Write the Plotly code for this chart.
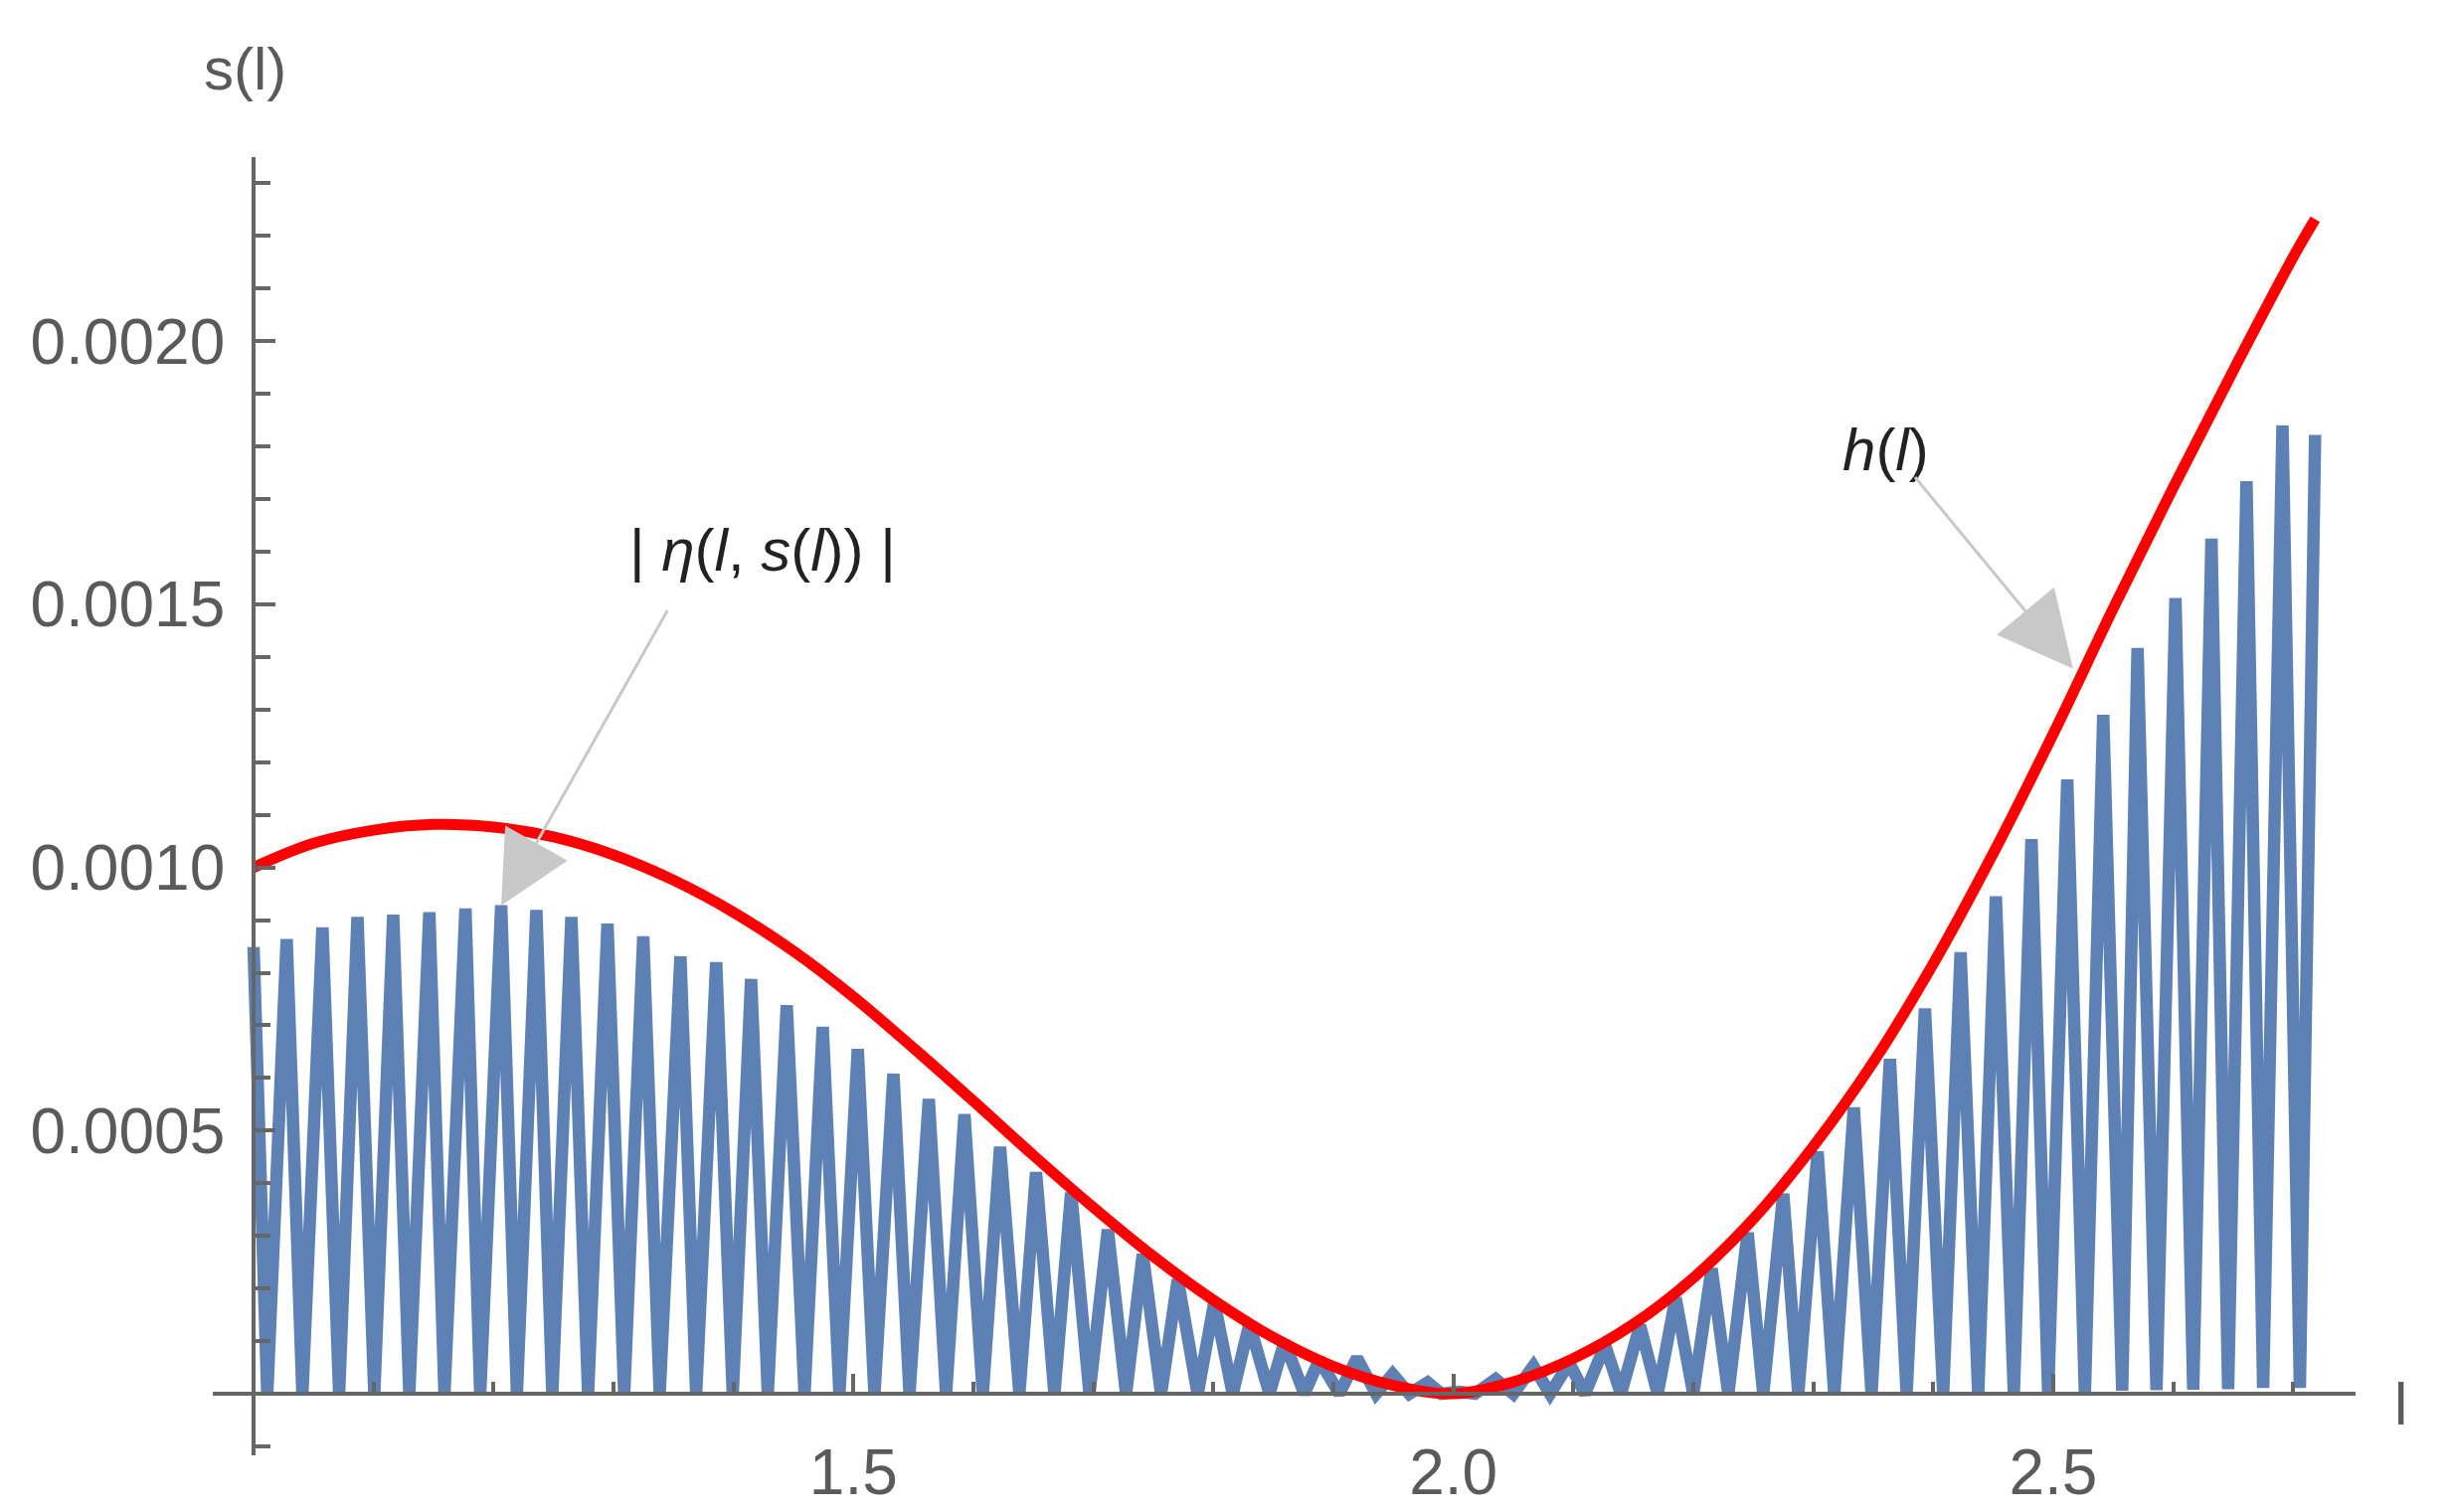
import plotly.graph_objects as go

# |eta(l, s(l))| : zigzag vertices
eta_l = [
    1.000, 1.0114, 1.0276, 1.0407, 1.0574, 1.0713, 1.0866, 1.1006, 1.1164, 1.1298,
    1.1465, 1.1591, 1.1766, 1.1889, 1.2064, 1.2195, 1.2357, 1.2490, 1.2649, 1.2788,
    1.2950, 1.3089, 1.3248, 1.3385, 1.3558, 1.3689, 1.3856, 1.3994, 1.4147, 1.4286,
    1.4444, 1.4592, 1.4744, 1.4883, 1.5036, 1.5175, 1.5333, 1.5467, 1.5628, 1.5772,
    1.5925, 1.6078, 1.6222, 1.6383, 1.6522, 1.6675, 1.6814, 1.6967, 1.7120, 1.7272,
    1.7411, 1.7564, 1.7703, 1.7869, 1.8008, 1.8161, 1.8300, 1.8467, 1.8592, 1.8758,
    1.8883, 1.9050, 1.9197, 1.9356, 1.9494, 1.9633, 1.9786, 1.9900, 2.0050, 2.0180,
    2.0353, 2.0500, 2.0667, 2.0806, 2.0967, 2.1097, 2.1264, 2.1397, 2.1556, 2.1703,
    2.1853, 2.2000, 2.2153, 2.2292, 2.2453, 2.2583, 2.2750, 2.2875, 2.3036, 2.3175,
    2.3338, 2.3486, 2.3639, 2.3778, 2.3931, 2.4083, 2.4228, 2.4375, 2.4522, 2.4672,
    2.4819, 2.4958, 2.5117, 2.5264, 2.5417, 2.5575, 2.5703, 2.5861, 2.6019, 2.6167,
    2.6319, 2.6458, 2.6611, 2.6750, 2.6911, 2.7056, 2.7183,
]
eta_v = [
    0.000849, 0, 0.000864, 0, 0.000886, 0, 0.000906, 0, 0.000910, 0,
    0.000915, 0, 0.000922, 0, 0.000928, 0, 0.000919, 0, 0.000906, 0,
    0.000893, 0, 0.000869, 0, 0.000831, 0, 0.000820, 0, 0.000788, 0,
    0.000738, 0, 0.000697, 0, 0.000655, 0, 0.000608, 0, 0.000560, 0,
    0.000531, 0, 0.000469, 0, 0.000421, 0, 0.000382, 0, 0.000312, 0,
    0.000265, 0, 0.000217, 0, 0.000174, 0, 0.000133, 0, 0.0000988, 0,
    0.0000648, 0, 0.0000679, 0, 0.000037, 0, 0.0000216, 0, 0.000004, 0,
    0.0000278, 0, 0.0000525, 0, 0.0000586, 0, 0.0000926, 0, 0.000130, 0,
    0.000182, 0, 0.000238, 0, 0.000306, 0, 0.000380, 0, 0.000460, 0,
    0.000544, 0, 0.000636, 0, 0.000732, 0, 0.000839, 0, 0.000945, 0,
    0.001054, 0, 0.001167, 0, 0.001290, 0.000006, 0.001417, 0.000007, 0.001512, 0.000008,
    0.001625, 0.000009, 0.001734, 0.000011, 0.001840, 0.000011, 0.001822,
]

# h(l) : smooth bound
h_l = [
    1.00, 1.05, 1.10, 1.15, 1.20, 1.25, 1.30, 1.35, 1.40, 1.45,
    1.50, 1.55, 1.60, 1.65, 1.70, 1.75, 1.80, 1.85, 1.90, 1.95,
    2.00, 2.05, 2.10, 2.15, 2.20, 2.25, 2.30, 2.35, 2.40, 2.45,
    2.50, 2.55, 2.60, 2.65, 2.70, 2.7183,
]
h_v = [
    0.001000, 0.001046, 0.001071, 0.001082, 0.001077, 0.001058, 0.001024, 0.000976, 0.000915, 0.000841,
    0.000754, 0.000657, 0.000556, 0.000453, 0.000354, 0.000261, 0.000178, 0.000107, 0.000052, 0.000016,
    0.0, 0.0000225, 0.000067, 0.000132, 0.000220, 0.000332, 0.000470, 0.000630, 0.000817, 0.001027,
    0.001254, 0.001492, 0.001722, 0.001944, 0.002160, 0.002232,
]

x_ticks = [1.5, 2.0, 2.5]
x_ticktext = ["1.5", "2.0", "2.5"]
y_ticks = [0.0005, 0.0010, 0.0015, 0.0020]
y_ticktext = ["0.0005", "0.0010", "0.0015", "0.0020"]

x_range = [0.966, 2.752]
y_range = [-0.000117, 0.00235]
axis_gray = "#666666"
label_gray = "#5a5a5a"
sans = "Liberation Sans, Arial, sans-serif"

fig = go.Figure()
fig.add_trace(
    go.Scatter(
        x=eta_l, y=eta_v, mode="lines",
        line={"color": "#5E81B5", "width": 12.5},
        showlegend=False, hoverinfo="skip",
    )
)
fig.add_trace(
    go.Scatter(
        x=h_l, y=h_v, mode="lines",
        line={"color": "#FF0000", "width": 11, "shape": "spline", "smoothing": 1.0},
        showlegend=False, hoverinfo="skip",
    )
)

# where the axes cross: l = 1, s = 0
ypos = (1.0 - x_range[0]) / (x_range[1] - x_range[0])
xpos = (0.0 - y_range[0]) / (y_range[1] - y_range[0])

tick_font = {"family": sans, "size": 64, "color": label_gray}

fig.update_xaxes(
    range=x_range, anchor="free", position=xpos,
    showgrid=False, zeroline=False,
    showline=True, linecolor=axis_gray, linewidth=4,
    tickmode="array", tickvals=x_ticks, ticktext=x_ticktext,
    ticks="inside", ticklen=18, tickwidth=4, tickcolor=axis_gray,
    ticklabelstandoff=22, tickfont=tick_font,
    minor={"dtick": 0.1, "tick0": 0, "ticks": "inside", "ticklen": 10,
           "tickwidth": 4, "tickcolor": axis_gray, "showgrid": False},
)
fig.update_yaxes(
    range=y_range, anchor="free", position=ypos,
    showgrid=False, zeroline=False,
    showline=True, linecolor=axis_gray, linewidth=4,
    tickmode="array", tickvals=y_ticks, ticktext=y_ticktext,
    ticks="inside", ticklen=20, tickwidth=4, tickcolor=axis_gray,
    ticklabelstandoff=14, tickfont=tick_font,
    minor={"dtick": 0.0001, "tick0": 0, "ticks": "inside", "ticklen": 15,
           "tickwidth": 4, "tickcolor": axis_gray, "showgrid": False},
)

label_font = {"family": sans, "size": 60, "color": "#222222"}
arrow_gray = "#c8c8c8"

annotations = [
    # axis labels
    dict(text="s(l)", xref="paper", yref="paper", x=0.015, y=1.068,
         xanchor="center", yanchor="middle",
         showarrow=False, font={"family": sans, "size": 60, "color": label_gray}),
    dict(text="l", xref="paper", yref="paper", x=1.021, y=xpos - 0.008,
         xanchor="center", yanchor="middle",
         showarrow=False, font={"family": sans, "size": 60, "color": label_gray}),
    # callout texts
    dict(text="| <i>η</i>(<i>l</i>, <i>s</i>(<i>l</i>)) |", x=1.424, y=0.001602,
         xanchor="center", yanchor="middle", showarrow=False, font=label_font),
    dict(text="<i>h</i>(<i>l</i>)", x=2.360, y=0.001793,
         xanchor="center", yanchor="middle", showarrow=False, font=label_font),
    # callout arrows
    dict(text="", x=1.2064, y=0.000928, ax=168, ay=-298,
         showarrow=True, arrowhead=2, arrowsize=4.8, arrowwidth=3, arrowcolor=arrow_gray),
    dict(text="", x=2.5164, y=0.001378, ax=-160, ay=-194,
         showarrow=True, arrowhead=2, arrowsize=5.0, arrowwidth=3, arrowcolor=arrow_gray),
]

fig.update_layout(
    width=2467, height=1521,
    margin={"l": 206, "r": 106, "t": 150, "b": 42},
    plot_bgcolor="white", paper_bgcolor="white",
    annotations=annotations,
    showlegend=False,
)

fig.write_html("out.html")
